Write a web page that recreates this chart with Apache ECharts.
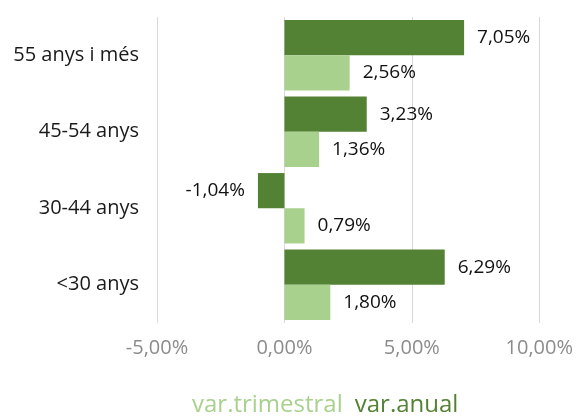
<!DOCTYPE html>
<html lang="ca">
  <head>
    <meta charset="utf-8" />
    <title>Variació per edat</title>
    <script src="https://cdn.jsdelivr.net/npm/echarts@6/dist/echarts.min.js"></script>
  </head>
  <style>
    * {
      margin: 0;
      padding: 0;
    }

    #main {
      width: 576px;
      height: 420px;
    }
  </style>
  <body>
    <div id="main"></div>
    <script>
      const categories = ["55 anys i més", "45-54 anys", "30-44 anys", "<30 anys"];
      const varAnual = [7.05, 3.23, -1.04, 6.29];
      const varTrimestral = [2.56, 1.36, 0.79, 1.8];
      const tickMin = -5;
      const tickMax = 10;
      const tickStep = 5;

      const font = "'Open Sans', sans-serif";

      function pct(value) {
        return value.toFixed(2).replace(".", ",") + "%";
      }

      function barLabel() {
        return {
          show: true,
          position: "right",
          distance: 13,
          color: "#111",
          fontSize: 19,
          fontFamily: font,
          padding: [3, 0, 0, 0],
          formatter: (params) => pct(params.value),
        };
      }

      const chart = echarts.init(document.getElementById("main"));

      chart.setOption({
        animation: false,
        grid: { left: 157, right: 36, top: 17, bottom: 97 },
        legend: {
          bottom: -2,
          left: 187,
          itemWidth: 0,
          itemHeight: 0,
          itemGap: 12,
          textStyle: { fontSize: 24, fontFamily: font, padding: [0, 0, 0, -5] },
          data: [
            { name: "var.trimestral", textStyle: { color: "#a9d18e" } },
            { name: "var.anual", textStyle: { color: "#548235" } },
          ],
        },
        xAxis: {
          type: "value",
          min: tickMin,
          max: tickMax,
          interval: tickStep,
          axisLine: { show: false },
          axisTick: { show: false },
          splitLine: { lineStyle: { color: "#d9d9d9" } },
          axisLabel: {
            margin: 15,
            color: "#8c8c8c",
            fontSize: 20,
            fontFamily: font,
            formatter: pct,
          },
        },
        yAxis: {
          type: "category",
          inverse: true,
          data: categories,
          axisLine: { show: false },
          axisTick: { show: false },
          axisLabel: {
            margin: 18,
            color: "#1a1a1a",
            fontSize: 20,
            fontFamily: font,
          },
        },
        series: [
          {
            name: "var.anual",
            type: "bar",
            data: varAnual.map((v) => ({
              value: v,
              label: v < 0 ? { position: "left" } : {},
            })),
            itemStyle: { color: "#548235" },
            label: barLabel(),
            barGap: "0%",
            barCategoryGap: "8%",
          },
          {
            name: "var.trimestral",
            type: "bar",
            data: varTrimestral,
            itemStyle: { color: "#a9d18e" },
            label: barLabel(),
            barGap: "0%",
            barCategoryGap: "8%",
          },
        ],
      });
    </script>
  </body>
</html>
